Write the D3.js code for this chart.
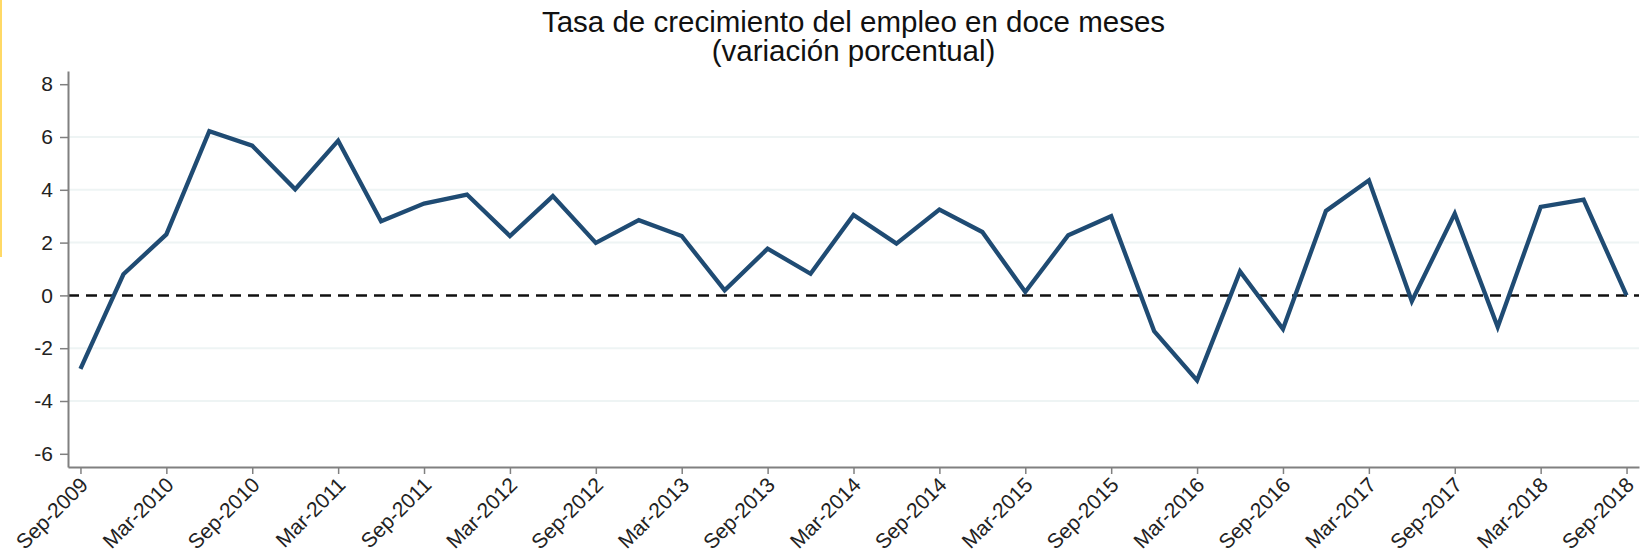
<!DOCTYPE html>
<html>
<head>
<meta charset="utf-8">
<script src="https://cdn.jsdelivr.net/npm/d3@7"></script>
<style>
  html, body { margin: 0; padding: 0; background: #fff; }
  svg { display: block; font-family: "Liberation Sans", Arial, sans-serif; }
</style>
</head>
<body>
<div id="chart"></div>
<script>
// Quarterly periods (12-month employment growth)
const periods = [
    'Sep-2009', 'Dec-2009', 'Mar-2010', 'Jun-2010', 'Sep-2010', 'Dec-2010',
    'Mar-2011', 'Jun-2011', 'Sep-2011', 'Dec-2011', 'Mar-2012', 'Jun-2012',
    'Sep-2012', 'Dec-2012', 'Mar-2013', 'Jun-2013', 'Sep-2013', 'Dec-2013',
    'Mar-2014', 'Jun-2014', 'Sep-2014', 'Dec-2014', 'Mar-2015', 'Jun-2015',
    'Sep-2015', 'Dec-2015', 'Mar-2016', 'Jun-2016', 'Sep-2016', 'Dec-2016',
    'Mar-2017', 'Jun-2017', 'Sep-2017', 'Dec-2017', 'Mar-2018', 'Jun-2018',
    'Sep-2018'
];

const growth = [
    -2.78, 0.80, 2.31, 6.22, 5.67, 4.02,
    5.86, 2.81, 3.48, 3.82, 2.25, 3.76,
    1.99, 2.85, 2.25, 0.19, 1.77, 0.82,
    3.05, 1.96, 3.25, 2.40, 0.13, 2.28,
    3.00, -1.35, -3.22, 0.91, -1.27, 3.20,
    4.36, -0.22, 3.10, -1.20, 3.35, 3.63,
    0.00
];

// Labelled ticks on the x axis
const xTickLabels = [
    'Sep-2009', 'Mar-2010', 'Sep-2010', 'Mar-2011', 'Sep-2011', 'Mar-2012',
    'Sep-2012', 'Mar-2013', 'Sep-2013', 'Mar-2014', 'Sep-2014', 'Mar-2015',
    'Sep-2015', 'Mar-2016', 'Sep-2016', 'Mar-2017', 'Sep-2017', 'Mar-2018',
    'Sep-2018'
];
const yTicks = [-6, -4, -2, 0, 2, 4, 6, 8];
const yGrid = [-4, -2, 2, 4, 6];

const titleLines = ['Tasa de crecimiento del empleo en doce meses', '(variación porcentual)'];

const width = 1644, height = 554;
const plot = { left: 68, right: 1639, top: 71, bottom: 467 };

const data = periods.map((p, i) => ({ period: p, value: growth[i] }));

const svg = d3.select('#chart')
    .append('svg')
    .attr('width', width)
    .attr('height', height);

// thin yellow edge on the left
svg.append('rect')
    .attr('x', 0).attr('y', 0)
    .attr('width', 2).attr('height', 257)
    .attr('fill', '#ffd966');

const x = d3.scalePoint()
    .domain(periods)
    .range([plot.left, plot.right])
    .padding(0.29);

const y = d3.scaleLinear()
    .domain([-6.5, 8.5])
    .range([plot.bottom, plot.top]);

// Gridlines
svg.append('g')
    .selectAll('line')
    .data(yGrid)
    .join('line')
    .attr('x1', plot.left)
    .attr('x2', plot.right)
    .attr('y1', d => y(d))
    .attr('y2', d => y(d))
    .attr('stroke', '#eef4f4')
    .attr('stroke-width', 2);

// Zero reference line
svg.append('line')
    .attr('x1', plot.left)
    .attr('x2', plot.right)
    .attr('y1', y(0))
    .attr('y2', y(0))
    .attr('stroke', '#111')
    .attr('stroke-width', 2.5)
    .attr('stroke-dasharray', '11,7');

// Axes
const xAxis = d3.axisBottom(x)
    .tickValues(xTickLabels)
    .tickSize(7)
    .tickSizeOuter(0);

const xAxisG = svg.append('g')
    .attr('transform', `translate(0, ${plot.bottom})`)
    .call(xAxis);

xAxisG.selectAll('text')
    .attr('text-anchor', 'end')
    .attr('transform', 'translate(3, 14) rotate(-45)')
    .attr('y', 0)
    .attr('x', 0)
    .attr('dy', '0.35em');

const yAxis = d3.axisLeft(y)
    .tickValues(yTicks)
    .tickFormat(d => String(d))
    .tickSize(8)
    .tickPadding(7)
    .tickSizeOuter(0);

const yAxisG = svg.append('g')
    .attr('transform', `translate(${plot.left}, 0)`)
    .call(yAxis);

[xAxisG, yAxisG].forEach(g => {
    g.select('.domain').attr('stroke', '#808080').attr('stroke-width', 2);
    g.selectAll('.tick line').attr('stroke', '#808080').attr('stroke-width', 1.5);
    g.selectAll('.tick text')
        .attr('fill', '#222')
        .style('font-size', '21px')
        .style('font-family', '"Liberation Sans", Arial, sans-serif');
});

// Series line
const line = d3.line()
    .x(d => x(d.period))
    .y(d => y(d.value));

svg.append('path')
    .datum(data)
    .attr('d', line)
    .attr('fill', 'none')
    .attr('stroke', '#1f4b73')
    .attr('stroke-width', 4.3)
    .attr('stroke-linejoin', 'miter');

// Title
svg.append('text')
    .attr('x', (plot.left + plot.right) / 2)
    .attr('y', 32)
    .attr('text-anchor', 'middle')
    .attr('fill', '#111')
    .style('font-size', '29.5px')
    .selectAll('tspan')
    .data(titleLines)
    .join('tspan')
    .attr('x', (plot.left + plot.right) / 2)
    .attr('dy', (d, i) => i === 0 ? 0 : 29)
    .text(d => d);
</script>
</body>
</html>
